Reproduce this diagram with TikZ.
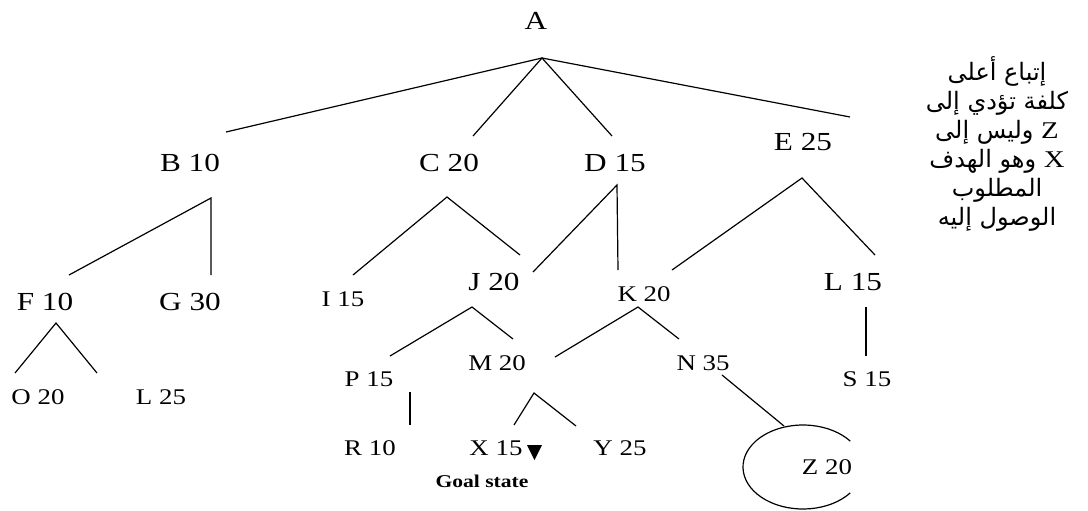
\documentclass[tikz,border=0pt]{standalone}
\usepackage{fontspec}
\setmainfont[FakeStretch=1.2]{Liberation Serif}
\newfontfamily\arabicfont[Script=Arabic]{DejaVu Sans}
\TeXXeTstate=1
\tikzset{
  big/.style={inner sep=0pt,font=\fontsize{13}{15}\selectfont},
  sml/.style={inner sep=0pt,font=\fontsize{11.2}{13}\selectfont},
  edge/.style={line width=.6pt}
}
\begin{document}
\begin{tikzpicture}[x=.5pt,y=-.5pt]
\path[use as bounding box] (0,0) rectangle (1088,510);
\node[big] (A) at (536,21) {A};
\node[big] (B10) at (190,163) {B 10};
\node[big] (C20) at (449,163) {C 20};
\node[big] (D15) at (615,163) {D 15};
\node[big] (E25) at (803,142) {E 25};
\node[big] (F10) at (45,302) {F 10};
\node[big] (G30) at (190,302) {G 30};
\node[sml] (I15) at (343,299) {I 15};
\node[big] (J20) at (494,282) {J 20};
\node[sml] (K20) at (644,294) {K 20};
\node[big] (L15) at (853,282) {L 15};
\node[sml] (O20) at (38,397) {O 20};
\node[sml] (L25) at (161,397) {L 25};
\node[sml] (P15) at (369,379) {P 15};
\node[sml] (M20) at (497,363) {M 20};
\node[sml] (N35) at (703,363) {N 35};
\node[sml] (S15) at (867,379) {S 15};
\node[sml] (R10) at (370,448) {R 10};
\node[sml] (X15) at (496,448) {X 15};
\node[sml] (Y25) at (620,448) {Y 25};
\node[sml] (Z20) at (827,467) {Z 20};
\node[inner sep=0pt,font=\bfseries\fontsize{9}{10}\selectfont] (goal) at (482,481) {Goal state};
\node[inner sep=0pt,align=center,font=\arabicfont\fontsize{12}{14.5}\selectfont] (note) at (997,144)
  {\beginR إتباع أعلى\endR\\\beginR كلفة تؤدي إلى\endR\\\beginR{\rmfamily Z} وليس إلى\endR\\
   \beginR{\rmfamily X} وهو الهدف\endR\\\beginR المطلوب\endR\\\beginR الوصول إليه\endR};

\coordinate (fA) at (542,58);
\coordinate (tB) at (226,132);
\coordinate (tC) at (473,136);
\coordinate (tD) at (612,136);
\coordinate (tE) at (850,117);
\coordinate (fB) at (211,198);
\coordinate (tF) at (69,275);
\coordinate (tG) at (211,275);
\coordinate (fF) at (56,323);
\coordinate (tO) at (15,373);
\coordinate (tL) at (97,373);
\coordinate (fC) at (447,197);
\coordinate (tI) at (353,275);
\coordinate (tJ) at (520,255);
\coordinate (fD) at (617,185);
\coordinate (tJJ) at (533,272);
\coordinate (tK) at (618,270);
\coordinate (fE) at (802,178);
\coordinate (tKK) at (672,270);
\coordinate (tLL) at (875,255);
\coordinate (fJ) at (472,307);
\coordinate (tP) at (390,356);
\coordinate (tM) at (513,339);
\coordinate (fK) at (638,307);
\coordinate (tMM) at (555,357);
\coordinate (tN) at (679,339);
\coordinate (fL) at (866,307);
\coordinate (tS) at (866,356);
\coordinate (fP) at (410,392);
\coordinate (tR) at (410,425);
\coordinate (fM) at (534,393);
\coordinate (tX) at (514,425);
\coordinate (tY) at (576,426);
\coordinate (fN) at (722,375);
\coordinate (tZ) at (784,426);
\coordinate (zc) at (803,467);

\draw[edge] (tB)--(fA)--(tE);
\draw[edge] (tC)--(fA)--(tD);
\draw[edge] (tF)--(fB)--(tG);
\draw[edge] (tO)--(fF)--(tL);
\draw[edge] (tI)--(fC)--(tJ);
\draw[edge] (tJJ)--(fD)--(tK);
\draw[edge] (tKK)--(fE)--(tLL);
\draw[edge] (tP)--(fJ)--(tM);
\draw[edge] (tMM)--(fK)--(tN);
\draw[edge] (fL)--(tS);
\draw[edge] (fP)--(tR);
\draw[edge] (tX)--(fM)--(tY);
\draw[edge] (fN)--(tZ);
\draw[edge] (zc) ++(38:60 and 42) arc[start angle=38,end angle=322,x radius=60,y radius=42];
\fill (527,445)--(542,445)--(534.5,460)--cycle;
\end{tikzpicture}
\end{document}
